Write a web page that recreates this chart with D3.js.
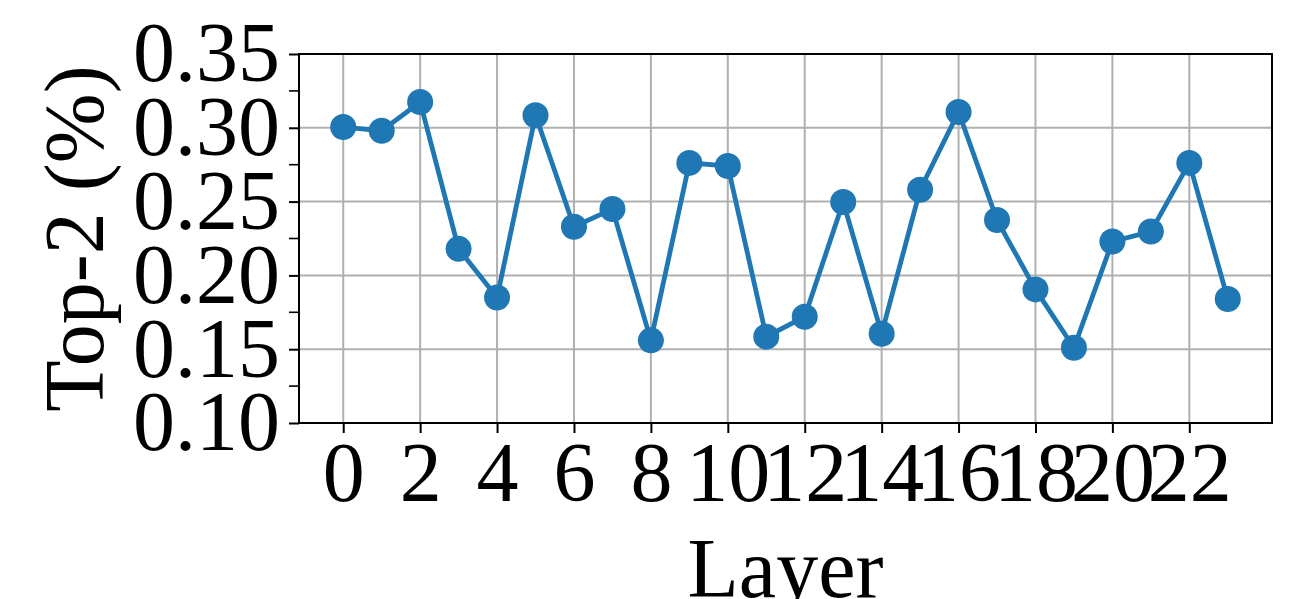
<!DOCTYPE html>
<html>
<head>
<meta charset="utf-8">
<script src="https://cdn.jsdelivr.net/npm/d3@7"></script>
<style>
  body { margin: 0; background: #fff; }
  svg { display: block; font-family: "Liberation Serif", "DejaVu Serif", serif; }
</style>
</head>
<body>
<div id="chart"></div>
<script>
const width = 1292;
const height = 599;
const margin = { top: 54, right: 20, bottom: 176, left: 299 };
const fontSize = "84px";

// data
const layers = d3.range(0, 24);
const top2 = [0.3005, 0.2980, 0.3175, 0.2180, 0.1850, 0.3085, 0.2330, 0.2450,
  0.1560, 0.2762, 0.2741, 0.1585, 0.1720, 0.2497, 0.1605, 0.2580,
  0.3107, 0.2375, 0.1905, 0.1510, 0.2230, 0.2297, 0.2762, 0.1840];
const xTicks = [0, 2, 4, 6, 8, 10, 12, 14, 16, 18, 20, 22];
const yTicks = [0.10, 0.15, 0.20, 0.25, 0.30, 0.35];
const yMinorTicks = [0.125, 0.175, 0.225, 0.275, 0.325];

const data = layers.map((l, i) => ({ layer: l, value: top2[i] }));

const svg = d3.select("#chart")
  .append("svg")
  .attr("width", width)
  .attr("height", height);

const x = d3.scaleLinear()
  .domain([-1.15, 24.15])
  .range([margin.left, width - margin.right]);

const y = d3.scaleLinear()
  .domain([0.10, 0.35])
  .range([height - margin.bottom, margin.top]);

// grid
svg.append("g")
  .selectAll("line.vgrid")
  .data(xTicks)
  .enter()
  .append("line")
  .attr("x1", d => x(d)).attr("x2", d => x(d))
  .attr("y1", margin.top).attr("y2", height - margin.bottom)
  .attr("stroke", "#b0b0b0")
  .attr("stroke-width", 2);

svg.append("g")
  .selectAll("line.hgrid")
  .data(yTicks)
  .enter()
  .append("line")
  .attr("x1", margin.left).attr("x2", width - margin.right)
  .attr("y1", d => y(d)).attr("y2", d => y(d))
  .attr("stroke", "#b0b0b0")
  .attr("stroke-width", 2);

// X axis
const xAxis = svg.append("g")
  .attr("transform", `translate(0, ${height - margin.bottom})`)
  .call(d3.axisBottom(x).tickValues(xTicks).tickSize(10).tickPadding(8).tickSizeOuter(0));

// Y axis
const yAxis = svg.append("g")
  .attr("transform", `translate(${margin.left},0)`)
  .call(d3.axisLeft(y).tickValues(yTicks).tickFormat(d3.format(".2f")).tickSize(10).tickPadding(9).tickSizeOuter(0));

// minor y ticks
svg.append("g")
  .selectAll("line")
  .data(yMinorTicks)
  .enter()
  .append("line")
  .attr("x1", margin.left - 10).attr("x2", margin.left)
  .attr("y1", d => y(d)).attr("y2", d => y(d))
  .attr("stroke", "#000")
  .attr("stroke-width", 1.6);

[xAxis, yAxis].forEach(g => {
  g.select(".domain").remove();
  g.selectAll(".tick line").attr("stroke", "#000").attr("stroke-width", 2);
  g.selectAll(".tick text")
    .attr("fill", "#000")
    .style("font-family", "'Liberation Serif', serif")
    .style("font-size", fontSize);
});

// frame
svg.append("rect")
  .attr("x", margin.left)
  .attr("y", margin.top)
  .attr("width", width - margin.right - margin.left)
  .attr("height", height - margin.bottom - margin.top)
  .attr("fill", "none")
  .attr("stroke", "#000")
  .attr("stroke-width", 2);

// line
svg.append("path")
  .datum(data)
  .attr("fill", "none")
  .attr("stroke", "#1f77b4")
  .attr("stroke-width", 4.8)
  .attr("d", d3.line().x(d => x(d.layer)).y(d => y(d.value)));

// markers
svg.selectAll("circle")
  .data(data)
  .enter()
  .append("circle")
  .attr("cx", d => x(d.layer))
  .attr("cy", d => y(d.value))
  .attr("r", 13)
  .attr("fill", "#1f77b4");

// X axis label
svg.append("text")
  .attr("x", (margin.left + width - margin.right) / 2)
  .attr("y", 597)
  .attr("text-anchor", "middle")
  .style("font-size", fontSize)
  .text("Layer");

// Y axis label
svg.append("text")
  .attr("transform", "rotate(-90)")
  .attr("x", -(margin.top + height - margin.bottom) / 2)
  .attr("y", 103)
  .attr("text-anchor", "middle")
  .style("font-size", fontSize)
  .text("Top-2 (%)");
</script>
</body>
</html>
